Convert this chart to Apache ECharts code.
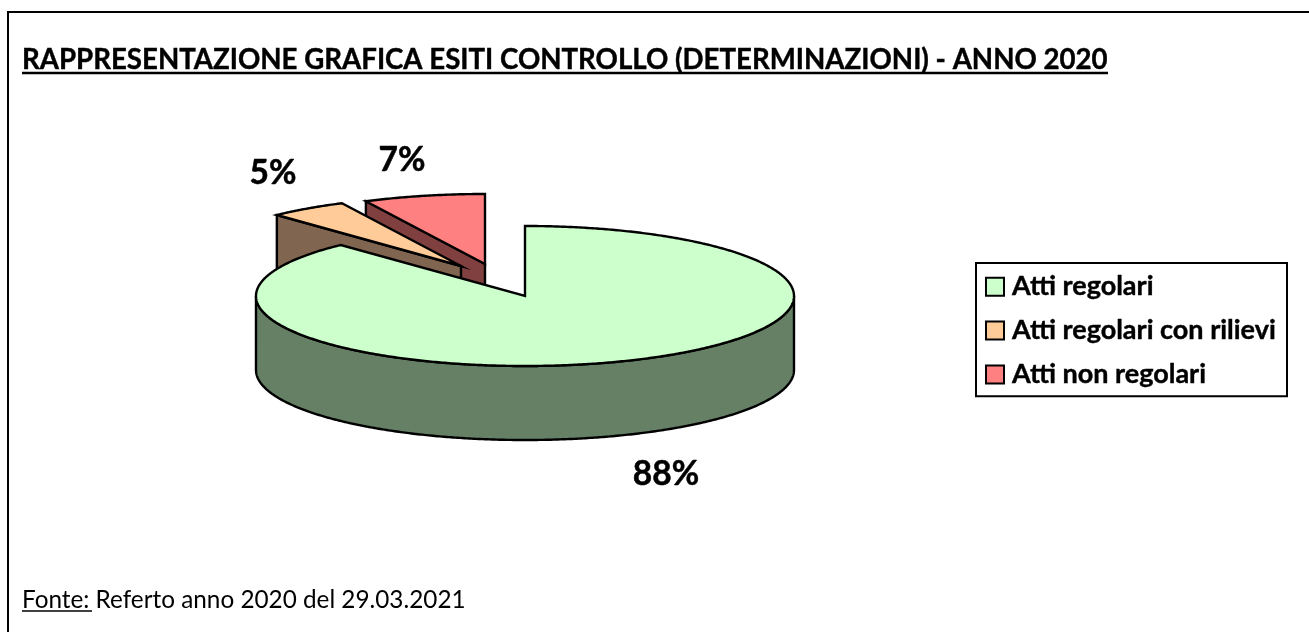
<!DOCTYPE html>
<html>
<head>
<meta charset="utf-8">
<style>html,body{margin:0;padding:0;background:#fff}#c{width:1309px;height:632px}</style>
<script src="https://cdn.jsdelivr.net/npm/echarts@6/dist/echarts.min.js"></script>
</head>
<body>
<div id="c"></div>
<script>
const categories = ['Atti regolari', 'Atti regolari con rilievi', 'Atti non regolari'];
const values = [88, 4.7, 7.3];
const topColors = ['#CCFFCC', '#FFCC99', '#FF8080'];
const sideColors = ['#668066', '#806650', '#804040'];
const explode = [[0, 0], [-64, -30], [-40, -32]];
const labelPos = [[666, 474], [273, 173], [402, 160]];
const drawOrder = [2, 1, 0];

const cx = 525, cy = 296, rx = 269, ry = 70, depth = 74;
const total = values.reduce((a, b) => a + b, 0);
const starts = [];
values.reduce((acc, v, i) => { starts[i] = acc; return acc + v; }, 0);
const STROKE = { stroke: '#000', lineWidth: 2.4, lineJoin: 'miter', miterLimit: 30 };

function pt(t, ox, oy, dz) {
  const r = t * Math.PI / 180;
  return [cx + ox + rx * Math.sin(r), cy + oy - ry * Math.cos(r) + (dz || 0)];
}
function arc(a, b, ox, oy, dz) {
  const n = Math.max(2, Math.ceil(Math.abs(b - a) * 2));
  const out = [];
  for (let k = 0; k <= n; k++) out.push(pt(a + (b - a) * k / n, ox, oy, dz));
  return out;
}
function poly(points, fill, z2) {
  return { type: 'polygon', shape: { points }, style: Object.assign({ fill }, STROKE), z2 };
}
function renderSlice(idx) {
  return function (params, api) {
    const v = api.value(0);
    const a = starts[idx] / total * 360;
    const b = a + v / total * 360;
    const [ox, oy] = explode[idx];
    const apex = [cx + ox, cy + oy];
    const apexLow = [apex[0], apex[1] + depth];
    const kids = [];
    const faces = [[a, -1], [b, 1]];
    faces.forEach(([t, sign], i) => {
      if (sign * Math.sin(t * Math.PI / 180) > 1e-6) {
        kids.push(poly([apex, pt(t, ox, oy), pt(t, ox, oy, depth), apexLow], sideColors[idx], i));
      }
    });
    const w0 = Math.max(a, 90), w1 = Math.min(b, 270);
    if (w1 > w0) {
      const up = arc(w0, w1, ox, oy), low = arc(w0, w1, ox, oy, depth).reverse();
      kids.push(poly(up.concat(low), sideColors[idx], 3));
    }
    kids.push(poly([apex].concat(arc(a, b, ox, oy)), topColors[idx], 4));
    kids.push({
      type: 'text', z2: 5,
      style: {
        x: labelPos[idx][0], y: labelPos[idx][1],
        text: Math.round(v / total * 100) + '%',
        fill: '#000', font: 'bold 33.5px Lato', align: 'center', verticalAlign: 'middle',
        stroke: '#000', lineWidth: 0.5
      }
    });
    return { type: 'group', children: kids };
  };
}

const chart = echarts.init(document.getElementById('c'), null, { renderer: 'canvas' });
chart.setOption({
  animation: false,
  backgroundColor: '#fff',
  title: [
    { text: 'RAPPRESENTAZIONE GRAFICA ESITI CONTROLLO (DETERMINAZIONI) - ANNO 2020',
      left: 22, top: 46, padding: 0,
      textStyle: { fontFamily: 'Lato', fontWeight: 'bold', fontSize: 27.65, color: '#000',
        textBorderColor: '#000', textBorderWidth: 0.4 } },
    { text: 'Fonte: Referto anno 2020 del 29.03.2021',
      left: 22, top: 588, padding: 0,
      textStyle: { fontFamily: 'Lato', fontWeight: 'normal', fontSize: 24.3, color: '#000' } }
  ],
  legend: {
    data: categories,
    orient: 'vertical',
    left: 976, top: 263,
    padding: [10, 11, 8, 9],
    itemGap: 16.5,
    itemWidth: 18, itemHeight: 18,
    icon: 'rect',
    borderColor: '#000', borderWidth: 2,
    backgroundColor: '#fff',
    selectedMode: false,
    itemStyle: { borderColor: '#000', borderWidth: 2 },
    textStyle: { fontFamily: 'Lato', fontWeight: 'bold', fontSize: 27, color: '#000', padding: [0, 0, 0, 3],
      textBorderColor: '#000', textBorderWidth: 0.4 }
  },
  graphic: [
    { type: 'rect', silent: true, z: -1,
      shape: { x: 8, y: 12, width: 1400, height: 700 },
      style: { fill: 'none', stroke: '#000', lineWidth: 2 } },
    { type: 'line', silent: true,
      shape: { x1: 22, y1: 73, x2: 1108, y2: 73 },
      style: { stroke: '#000', lineWidth: 2.5 } },
    { type: 'line', silent: true,
      shape: { x1: 22, y1: 611, x2: 92, y2: 611 },
      style: { stroke: '#000', lineWidth: 1.5 } }
  ],
  series: drawOrder.map(i => ({
    type: 'custom',
    name: categories[i],
    coordinateSystem: 'none',
    silent: true,
    z: 2 + drawOrder.indexOf(i),
    itemStyle: { color: topColors[i] },
    data: [[values[i]]],
    renderItem: renderSlice(i)
  }))
});
</script>
</body>
</html>
